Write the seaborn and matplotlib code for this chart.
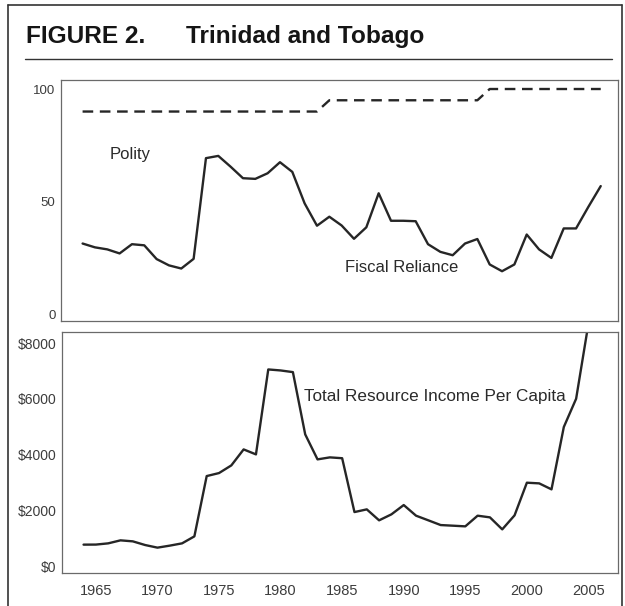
import matplotlib
matplotlib.use("Agg")
import matplotlib.pyplot as plt
import seaborn as sns
import pandas as pd
from matplotlib.lines import Line2D

# ---- data ----
years = list(range(1964, 2007))
fiscal_reliance = [31.4, 29.7, 28.8, 27.0, 31.1, 30.6, 24.5, 21.7, 20.3, 24.6,
                   69.3, 70.3, 65.5, 60.4, 60.1, 62.6, 67.5, 63.2, 49.2, 39.3,
                   43.3, 39.4, 33.5, 38.6, 53.7, 41.5, 41.5, 41.3, 31.1, 27.7,
                   26.2, 31.4, 33.4, 22.1, 19.1, 22.1, 35.4, 28.8, 25.0, 38.1,
                   38.1, 47.7, 56.9]
polity = [90] * 20 + [95] * 13 + [100] * 10
resource_years = list(range(1964, 2006))
resource_income = [768, 770, 814, 922, 886, 754, 660, 732, 814, 1065,
                   3229, 3337, 3612, 4186, 4007, 7056, 7020, 6960, 4725, 3828,
                   3900, 3870, 1937, 2034, 1640, 1855, 2189, 1807, 1640, 1471,
                   1448, 1424, 1807, 1747, 1316, 1819, 2991, 2967, 2752, 4990,
                   6005, 8700]
x_ticks = [1965, 1970, 1975, 1980, 1985, 1990, 1995, 2000, 2005]
top_yticks = [0, 50, 100]
bottom_yticks = [0, 2000, 4000, 6000, 8000]
bottom_ytick_labels = ["$0", "$2000", "$4000", "$6000", "$8000"]
title_figure = "FIGURE 2."
title_country = "Trinidad and Tobago"

top_df = pd.DataFrame({"year": years, "fiscal": fiscal_reliance, "polity": polity})
bot_df = pd.DataFrame({"year": resource_years, "income": resource_income})

sns.set_style("white")
plt.rcParams["font.family"] = ["Liberation Sans", "DejaVu Sans"]

W, H = 625, 606
fig = plt.figure(figsize=(W / 100, H / 100), dpi=100)

def fx(px):
    return px / W

def fy(py):
    return 1 - py / H

line_color = "#262626"
tick_color = "#3c3c3c"
frame_color = "#6a6a6a"

ax1 = fig.add_axes([fx(61), fy(321), fx(618) - fx(61), fy(80) - fy(321)])
ax2 = fig.add_axes([fx(62), fy(573), fx(618) - fx(62), fy(332) - fy(573)])

sns.lineplot(data=top_df, x="year", y="fiscal", ax=ax1, color=line_color, linewidth=1.7)
sns.lineplot(data=top_df, x="year", y="polity", ax=ax1, color=line_color, linewidth=1.7,
             linestyle=(0, (4.5, 2.8)))
sns.lineplot(data=bot_df, x="year", y="income", ax=ax2, color=line_color, linewidth=1.7)

xlim = (1962.25, 2007.4)
ax1.set_xlim(*xlim)
ax2.set_xlim(*xlim)
ax1.set_ylim(-3, 104)
ax2.set_ylim(-250, 8400)

ax1.set_xticks(x_ticks)
ax1.set_xticklabels([])
ax1.set_yticks(top_yticks)
ax1.set_yticklabels([str(v) for v in top_yticks])
ax2.set_xticks(x_ticks)
ax2.set_xticklabels([str(v) for v in x_ticks])
ax2.set_yticks(bottom_yticks)
ax2.set_yticklabels(bottom_ytick_labels)

for ax in (ax1, ax2):
    ax.set_xlabel("")
    ax.set_ylabel("")
    ax.tick_params(axis="both", length=0, colors=tick_color)
    ax.tick_params(axis="x", labelsize=10.5, pad=8)
    for s in ax.spines.values():
        s.set_visible(True)
        s.set_color(frame_color)
        s.set_linewidth(0.9)
    ax.grid(False)
ax1.tick_params(axis="y", labelsize=9.5, pad=4)
ax2.tick_params(axis="y", labelsize=10, pad=4)

ax1.text(1966.2, 71, "Polity", fontsize=12, color="#2a2a2a", va="center", ha="left")
ax1.text(1985.3, 20.9, "Fiscal Reliance", fontsize=12, color="#2a2a2a", va="center", ha="left")
ax2.text(1981.9, 6088, "Total Resource Income Per Capita", fontsize=12.3, color="#2a2a2a",
         va="center", ha="left")

# title and decorations
fig.text(fx(26), fy(43), title_figure, fontsize=17.6, fontweight="bold", color="#151515",
         ha="left", va="baseline")
fig.text(fx(186), fy(43), title_country, fontsize=17.6, fontweight="bold", color="#151515",
         ha="left", va="baseline")
fig.add_artist(Line2D([fx(25), fx(612)], [fy(59), fy(59)], color="#333333", linewidth=1.0))
# outer frame (left, top, right)
fig.add_artist(Line2D([fx(8), fx(8)], [fy(5), 0], color="#333333", linewidth=1.2))
fig.add_artist(Line2D([fx(8), fx(622)], [fy(5), fy(5)], color="#333333", linewidth=1.2))
fig.add_artist(Line2D([fx(622), fx(622)], [fy(5), 0], color="#333333", linewidth=1.2))

fig.savefig("out.png", dpi=100)
